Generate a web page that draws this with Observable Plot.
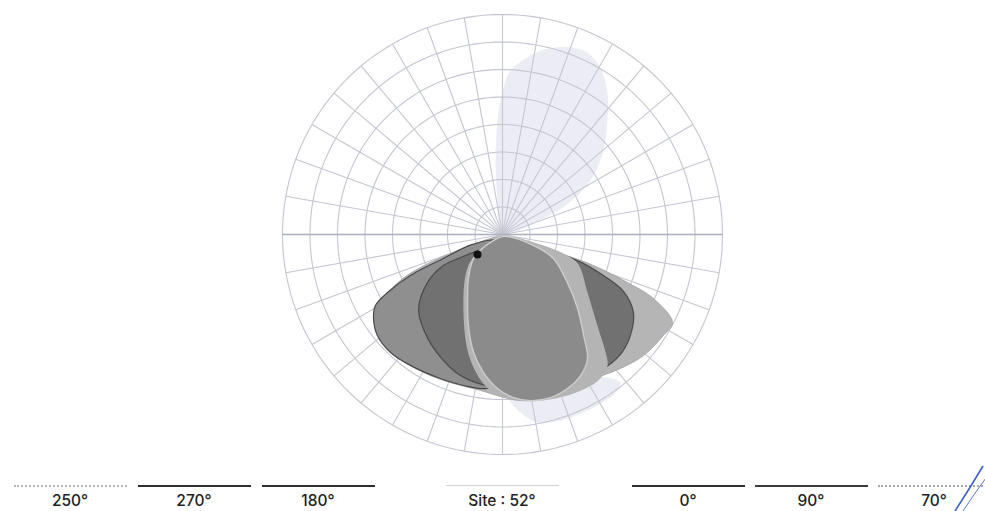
<!DOCTYPE html>
<html><head><meta charset="utf-8">
<script src="https://cdn.jsdelivr.net/npm/d3@7"></script>
<script src="https://cdn.jsdelivr.net/npm/@observablehq/plot@0.6"></script>
<style>
body{margin:0;background:#fff;font-family:Inter,"DejaVu Sans",sans-serif;}
#chart{width:985px;height:470px;}
#legend{position:relative;width:985px;height:41px;}
.ln{position:absolute;top:15px;width:113px;height:0;}
.lb{position:absolute;top:23px;width:140px;text-align:center;font-size:15.5px;line-height:16px;color:#1e1e1e;font-weight:500;}
#stamp{position:absolute;left:940px;top:0;overflow:visible;}
</style></head>
<body><div id="chart"></div><div id="legend"></div>
<script>
// ---- grid (intensity rings, 10° planes) ----
const ringValues = [1, 2, 3, 4, 5, 6, 7, 8];
const spokeAngles = d3.range(0, 360, 10);

// ---- curves, in ring units (x to the right, y upward, origin = luminaire) ----
const lavenderUpper = [[0,0],[-0.18,1.24],[-0.25,2.69],[-0.18,4.15],[0.04,5.35],[0.29,5.96],[0.91,6.44],[1.64,6.76],[2.47,6.80],[3.09,6.62],[3.56,6.07],[3.82,5.13],[3.82,4.25],[3.67,3.05],[3.20,1.96],[2.29,1.05],[1.20,0.44],[0.36,0.07]];
const lavenderLower = [[-0.15,-5.31],[0.18,-5.93],[0.65,-6.47],[1.27,-6.84],[1.93,-6.80],[2.47,-6.65],[3.31,-6.29],[4.11,-5.75],[4.29,-5.38],[2.84,-5.13],[1.38,-5.31]];
const curve70 = [[0.04,-0.07],[0.91,-0.29],[2.11,-0.69],[3.31,-1.13],[4.55,-1.75],[5.49,-2.33],[6.18,-3.20],[5.85,-3.67],[5.13,-4.40],[4.29,-4.87],[3.31,-5.24],[2.36,-5.60],[1.64,-5.93],[0.65,-6.04],[-0.80,-5.67],[-2.62,-5.13],[-4.07,-4.22],[-4.62,-2.95],[-3.71,-1.67],[-1.16,-0.40]];
const curve250 = [[-1.09,-0.36],[-2.15,-0.87],[-3.35,-1.49],[-4.18,-2.11],[-4.62,-2.58],[-4.69,-3.05],[-4.55,-3.67],[-4.07,-4.29],[-3.35,-4.76],[-2.36,-5.20],[-1.42,-5.49],[-0.55,-5.60],[0.65,-5.13],[1.38,-3.13],[1.02,-0.95],[-0.07,-0.22]];
const curve270 = [[-3.05,-2.76],[-2.73,-1.75],[-2.15,-1.13],[-1.53,-0.84],[-0.80,-0.58],[0.29,-0.44],[1.56,-0.58],[2.73,-0.95],[3.56,-1.42],[4.40,-2.07],[4.76,-2.84],[4.65,-3.67],[4.29,-4.36],[3.56,-4.95],[2.47,-5.38],[1.02,-5.60],[-0.44,-5.53],[-1.53,-5.13],[-2.15,-4.58],[-2.73,-3.75]];
const curve0 = [[0.04,-0.07],[1.38,-0.36],[2.29,-0.73],[2.76,-1.09],[3.09,-2.11],[3.45,-3.31],[3.75,-4.29],[3.82,-4.76],[3.56,-5.24],[3.02,-5.60],[1.93,-5.96],[0.65,-6.04],[-0.44,-5.67],[-1.16,-4.58],[-1.42,-2.76],[-1.24,-1.13],[-0.62,-0.40]];
const curve180 = [[0.04,-0.07],[1.13,-0.40],[1.85,-0.87],[2.36,-1.75],[2.73,-2.69],[2.95,-3.67],[3.09,-4.51],[2.84,-5.13],[2.36,-5.60],[1.75,-5.93],[1.02,-6.04],[0.40,-5.93],[-0.18,-5.60],[-0.69,-5.02],[-1.05,-4.29],[-1.24,-3.31],[-1.27,-2.47],[-1.24,-1.60],[-1.05,-0.87],[-0.69,-0.47],[-0.33,-0.22]];
const sitePoint = [[-0.91,-0.73]];

// ---- legend ----
const legendLabels = ["250°","270°","180°","Site : 52°","0°","90°","70°"];
const legendColors = ["#b4b4b4","#2e2e2e","#2e2e2e","#d2d2d2","#2e2e2e","#3a3a3a","#a8a8a8"];
const legendDashed = [true,false,false,false,false,false,true];

// ---- layout ----
const W = 985, H = 470, cx = 502, cy = 234, unit = 27.5;
const R = ringValues[ringValues.length - 1];
const rad = a => a * Math.PI / 180;

const ringPts = ringValues.flatMap(r => d3.range(0, 361, 2).map(a => ({r, x: r * Math.sin(rad(a)), y: r * Math.cos(rad(a))})));
const gridColor = "#c4c6d1";
const px = d => d[0], py = d => d[1];
const shape = (data, fill, stroke, sw) => Plot.line(data, {x: px, y: py, fill, stroke, strokeWidth: sw, curve: "catmull-rom-closed"});

const plot = Plot.plot({
  width: W, height: H,
  marginLeft: 0, marginRight: 0, marginTop: 0, marginBottom: 0,
  x: {domain: [-cx / unit, (W - cx) / unit], axis: null},
  y: {domain: [-(H - cy) / unit, cy / unit], axis: null},
  style: {background: "transparent"},
  marks: [
    shape(lavenderUpper, "#ececf4", "none", 0),
    shape(lavenderLower, "#ececf4", "none", 0),
    Plot.line(ringPts, {x: "x", y: "y", z: "r", stroke: gridColor, strokeWidth: 1.1}),
    Plot.link(spokeAngles, {x1: 0, y1: 0, x2: a => R * Math.sin(rad(a)), y2: a => R * Math.cos(rad(a)), stroke: gridColor, strokeWidth: 1.1}),
    Plot.link([0], {x1: -R, x2: R, y1: 0, y2: 0, stroke: "#abaebf", strokeWidth: 1.6}),
    shape(curve70, "#b5b5b5", "#a9a9a9", 1),
    shape(curve250, "#8f8f8f", "#4a4a4a", 1.2),
    shape(curve270, "#717171", "#4a4a4a", 1.2),
    shape(curve0, "#b4b4b4", "none", 0),
    shape(curve180, "#8b8b8b", "#cdcdcd", 1.4),
    Plot.dot(sitePoint, {x: px, y: py, r: 4, fill: "#111"})
  ]
});
document.getElementById("chart").append(plot);

// legend
const legend = document.getElementById("legend");
const slotCenters = [70, 194, 318, 502, 688, 811, 934];
legendLabels.forEach((lab, i) => {
  const c = slotCenters[i];
  const ln = document.createElement("div");
  ln.className = "ln";
  ln.style.left = (c - 56.5) + "px";
  ln.style.borderTop = (legendDashed[i] ? "2px dotted " : (legendColors[i] === "#d2d2d2" ? "1px solid " : "2px solid ")) + legendColors[i];
  legend.append(ln);
  const lb = document.createElement("div");
  lb.className = "lb";
  lb.style.left = (c - 70) + "px";
  lb.textContent = lab;
  legend.append(lb);
});
legend.insertAdjacentHTML("beforeend",
  '<svg id="stamp" width="45" height="41" viewBox="0 0 45 41"><path d="M43,-4 Q30,18 15,41" fill="none" stroke="#3d62cc" stroke-width="1.6"/><path d="M46,8 Q34,24 23,41" fill="none" stroke="#5b7ad6" stroke-width="1"/></svg>');
</script>
</body></html>
